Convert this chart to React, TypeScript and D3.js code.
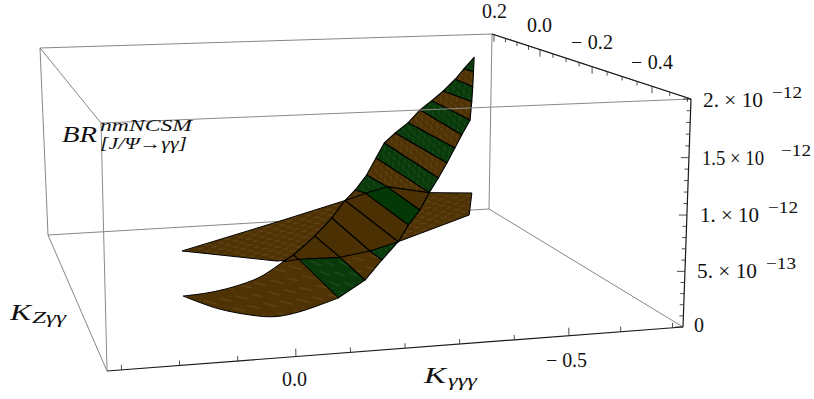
import React from 'react';
import * as d3 from 'd3';

type Pt = [number, number, number];

// values are [K_gamma, K_Z, BR in units of 1e-12]
const steepLeft: Pt[] = [
  [-0.619, 0.1, 1.854], [-0.585, 0.08, 1.753], [-0.555, 0.06, 1.668], [-0.518, 0.04, 1.571],
  [-0.483, 0.02, 1.496], [-0.449, 0, 1.426], [-0.414, -0.02, 1.325], [-0.377, -0.04, 1.251],
  [-0.345, -0.06, 1.181], [-0.319, -0.08, 1.061], [-0.291, -0.1, 0.923], [-0.259, -0.12, 0.807],
  [-0.23, -0.14, 0.737], [-0.195, -0.16, 0.602], [-0.153, -0.18, 0.466], [-0.102, -0.2, 0.326],
];
const steepRight: Pt[] = [
  [-0.619, 0.1, 1.854], [-0.583, 0.03, 1.769], [-0.572, 0.01, 1.633], [-0.56, -0.01, 1.502],
  [-0.546, -0.03, 1.337], [-0.517, -0.05, 1.212], [-0.492, -0.07, 1.109], [-0.466, -0.09, 0.989],
  [-0.439, -0.11, 0.868], [-0.411, -0.13, 0.754], [-0.383, -0.15, 0.615], [-0.351, -0.17, 0.504],
  [-0.322, -0.19, 0.375], [-0.28, -0.21, 0.24], [-0.237, -0.23, 0.094], [-0.156, -0.3, 0.075],
];
// where the two sheets cross
const crossUpper: Pt[] = [[-0.273, -0.14, 0.797], [-0.326, -0.12, 0.823]];
const crossLower: Pt[] = [[-0.267, -0.18, 0.285], [-0.198, -0.2, 0.274], [-0.105, -0.22, 0.318], [-0.073, -0.22, 0.304]];
const tailBottom: Pt[] = [[-0.066, -0.34, 0.048], [-0.011, -0.36, 0.056], [0.035, -0.36, 0.087], [0.091, -0.34, 0.132], [0.148, -0.32, 0.228]];
const tailTop: Pt[] = [[0.099, -0.3, 0.205], [0.045, -0.28, 0.207], [-0.013, -0.26, 0.247]];
const wingEnds: Pt[] = [[0.12, -0.2, 0.432], [-0.087, -0.14, 0.564], [-0.516, -0.1, 0.682], [-0.464, -0.2, 0.612], [-0.054, -0.24, 0.351]];

const gammaTicks = [0.3, 0.2, 0.1, 0, -0.1, -0.2, -0.3, -0.4, -0.5, -0.6, -0.7];
const gammaMajor = [0, -0.5];
const zetaTicks = [0.2, 0.15, 0.1, 0.05, 0, -0.05, -0.1, -0.15, -0.2, -0.25, -0.3, -0.35, -0.4, -0.45, -0.5];
const zetaMajor = [0.2, 0, -0.2, -0.4];
const brTicks = [0, 0.1, 0.2, 0.3, 0.4, 0.5, 0.6, 0.7, 0.8, 0.9, 1, 1.1, 1.2, 1.3, 1.4, 1.5, 1.6, 1.7, 1.8, 1.9, 2];
const brMajor = [0, 0.5, 1, 1.5, 2];

const gammaPos = d3.scaleLinear().domain([0.325, 0, -0.5, -0.72]).range([0, 0.328, 0.802, 1]);
const zetaPos = d3.scaleLinear().domain([-0.51, -0.4, -0.2, 0, 0.2, 0.21]).range([0, 0.196, 0.497, 0.759, 0.99, 1]);
const brPos = d3.scaleLinear().domain([0, 0.5, 1, 1.5, 2]).range([0, 0.244, 0.491, 0.743, 1]);

// screen positions of the box corners, keyed by gamma/zeta/br end
const corners: Record<string, [number, number]> = {
  '000': [107, 371], '100': [683, 327], '010': [48, 235], '110': [489, 209],
  '001': [101, 123], '101': [691, 99], '011': [40, 48], '111': [492, 34],
};

const boxAt = (u: number, v: number, w: number): [number, number] => {
  let x = 0, y = 0;
  for (const a of [0, 1]) for (const b of [0, 1]) for (const c of [0, 1]) {
    const k = (a ? u : 1 - u) * (b ? v : 1 - v) * (c ? w : 1 - w);
    x += k * corners[`${a}${b}${c}`][0];
    y += k * corners[`${a}${b}${c}`][1];
  }
  return [x, y];
};
const project = (p: Pt) => boxAt(gammaPos(p[0]), zetaPos(p[1]), brPos(p[2]));
const closed = d3.line().curve(d3.curveLinearClosed);
const smooth = d3.line().curve(d3.curveCatmullRom);
const area = (pts: Pt[]) => closed(pts.map(project)) as string;
// smooth run of points that carries on from the current pen position
const arc = (pts: Pt[]) => (smooth(pts.map(project)) as string).replace(/^M/, 'L');

const BROWN = '#4f3304';
const GREEN = '#083a0a';
const SOLID_BROWN = '#4b3003';
const SOLID_GREEN = '#043806';

const L = steepLeft, R = steepRight;
const [c1, c2] = crossUpper;
const [jm, km, lm, en] = crossLower;
// extra points on a band line, left to right
const mids: Record<number, Pt[]> = { 10: [c2], 11: [c1], 13: [jm], 14: [km], 15: [lm] };
const band = (i: number) => [
  L[i], ...(mids[i] || []), R[i], R[i + 1], ...[...(mids[i + 1] || [])].reverse(), L[i + 1],
];
const bandFill = (i: number) => {
  if (i === 14) return 'url(#hatchTailGreen)';
  if (i === 13) return 'url(#hatchTail)';
  return i % 2 === 0 ? 'url(#hatchGreen)' : 'url(#hatchBrown)';
};
const bands = d3.range(15).map(i => ({ i, pts: band(i), fill: bandFill(i) }));
const tailPath =
  `M${project(L[15])}L${project(lm)}L${project(R[15])}` +
  arc([R[15], ...tailBottom]) +
  arc([tailBottom[tailBottom.length - 1], ...tailTop, en]) + 'Z';
const wing = [wingEnds[0], wingEnds[1], L[12], c1, c2, R[9], wingEnds[2], wingEnds[3], R[12], jm, km, lm, wingEnds[4]];
const solidCells = [
  { pts: [c2, R[9], R[10]], fill: SOLID_BROWN },
  { pts: [c2, R[10], R[11], c1], fill: SOLID_GREEN },
  { pts: [c1, R[11], R[12], L[12]], fill: SOLID_BROWN },
  { pts: [L[12], R[12], jm, L[13]], fill: SOLID_BROWN },
  { pts: [L[13], jm, km, L[14]], fill: SOLID_BROWN },
  { pts: [L[14], km, lm, L[15]], fill: SOLID_BROWN },
  { pts: [L[15], lm, en], fill: SOLID_BROWN },
];

const hatch = (id: string, base: string, angle: number, w: number, h: number, op: number) => (
  <pattern id={id} patternUnits="userSpaceOnUse" width={w} height={h} patternTransform={`rotate(${angle})`}>
    <rect width={w} height={h} fill={base} />
    <path d={`M0 ${h * 0.2}H${w * 0.45}M${w * 0.5} ${h * 0.7}H${w * 0.9}`} stroke="#efe9d8" strokeWidth={0.4} strokeOpacity={op} />
  </pattern>
);

const edge = (a: string, b: string) => ({ a: corners[a], b: corners[b] });
const greyBack = [edge('011', '111'), edge('011', '010'), edge('010', '110'), edge('111', '110'), edge('011', '001'), edge('010', '000'), edge('110', '100')];
const greyFront = [edge('001', '101'), edge('001', '000'), edge('111', '101')];
const axes = [edge('000', '100'), edge('100', '101'), edge('101', '111')];

const serif = "'Liberation Serif', 'Times New Roman', Times, serif";

const Power = ({ x, y, mant, exp, supX, len }: { x: number; y: number; mant: string; exp: string; supX: number; len: number }) => (
  <g>
    <text x={x} y={y} fontSize={20} textLength={len} lengthAdjust="spacingAndGlyphs">{mant} × 10</text>
    <text x={supX} y={y - 9} fontSize={16} textLength={30} lengthAdjust="spacingAndGlyphs">{exp}</text>
  </g>
);

export default function App() {
  return (
    <svg width={814} height={399} fontFamily={serif} style={{ position: 'absolute', left: 0, top: 0 }}>
      <defs>
        {hatch('hatchBrown', BROWN, 72, 12, 6, 0.3)}
        {hatch('hatchGreen', GREEN, 72, 12, 6, 0.3)}
        {hatch('hatchWing', BROWN, -8, 14, 6, 0.32)}
        {hatch('hatchTail', BROWN, 14, 30, 12, 0.3)}
        {hatch('hatchTailGreen', GREEN, 24, 26, 11, 0.32)}
      </defs>

      {greyBack.map((e, i) => (
        <line key={i} x1={e.a[0]} y1={e.a[1]} x2={e.b[0]} y2={e.b[1]} stroke="#777" strokeWidth={0.9} />
      ))}

      <path d={area(wing)} fill="url(#hatchWing)" stroke="#000" strokeWidth={1} />
      {bands.map(b => (
        <path key={b.i} d={area(b.pts)} fill={b.fill} stroke="#000" strokeWidth={1.1} strokeLinejoin="round" />
      ))}
      <path d={tailPath} fill="url(#hatchTail)" stroke="#000" strokeWidth={1} strokeLinejoin="round" />
      {solidCells.map((c, i) => (
        <path key={i} d={area(c.pts)} fill={c.fill} stroke="#000" strokeWidth={1.1} strokeLinejoin="round" />
      ))}

      {greyFront.map((e, i) => (
        <line key={i} x1={e.a[0]} y1={e.a[1]} x2={e.b[0]} y2={e.b[1]} stroke="#8a8a8a" strokeWidth={1} />
      ))}
      {axes.map((e, i) => (
        <line key={i} x1={e.a[0]} y1={e.a[1]} x2={e.b[0]} y2={e.b[1]} stroke="#1a1a1a" strokeWidth={1.2} />
      ))}

      {gammaTicks.map(t => {
        const [x, y] = boxAt(gammaPos(t), 0, 0);
        return <line key={t} x1={x} y1={y} x2={x - 0.2} y2={y - (gammaMajor.includes(t) ? 8 : 5)} stroke="#222" strokeWidth={0.8} />;
      })}
      {zetaTicks.map(t => {
        const [x, y] = boxAt(1, zetaPos(t), 1);
        return <line key={t} x1={x} y1={y} x2={x} y2={y + (zetaMajor.includes(t) ? 7 : 4)} stroke="#222" strokeWidth={0.8} />;
      })}
      {brTicks.map(t => {
        const [x, y] = boxAt(1, 0, brPos(t));
        return <line key={t} x1={x} y1={y} x2={x - (brMajor.includes(t) ? 8 : 4)} y2={y} stroke="#222" strokeWidth={0.8} />;
      })}

      <g fill="#111" fontSize={20}>
        <text x={482} y={18}>0.2</text>
        <text x={527} y={32}>0.0</text>
        <text x={571} y={49} textLength={42}>− 0.2</text>
        <text x={631} y={69} textLength={42}>− 0.4</text>
        <text x={282} y={386}>0.0</text>
        <text x={546} y={367} textLength={41}>− 0.5</text>
        <text x={694} y={332}>0</text>
        <Power x={703} y={107} mant="2." exp="−12" supX={772} len={60} />
        <Power x={702} y={165} mant="1.5" exp="−12" supX={781} len={62} />
        <Power x={700} y={222} mant="1." exp="−12" supX={768} len={59} />
        <Power x={697} y={278} mant="5." exp="−13" supX={766} len={60} />
      </g>

      <g fill="#111" fontStyle="italic">
        <text x={62} y={142} fontSize={24} textLength={35} lengthAdjust="spacingAndGlyphs">BR</text>
        <text x={100} y={131} fontSize={17} textLength={92} lengthAdjust="spacingAndGlyphs">nmNCSM</text>
        <text x={100} y={149} fontSize={16} textLength={87} lengthAdjust="spacingAndGlyphs">[J/Ψ→γγ]</text>
        <text x={10} y={320} fontSize={23} textLength={21} lengthAdjust="spacingAndGlyphs">K</text>
        <text x={32} y={323} fontSize={16} textLength={34} lengthAdjust="spacingAndGlyphs">Zγγ</text>
        <text x={424} y={383} fontSize={23} textLength={22} lengthAdjust="spacingAndGlyphs">K</text>
        <text x={448} y={386} fontSize={16} textLength={29} lengthAdjust="spacingAndGlyphs">γγγ</text>
      </g>
    </svg>
  );
}
